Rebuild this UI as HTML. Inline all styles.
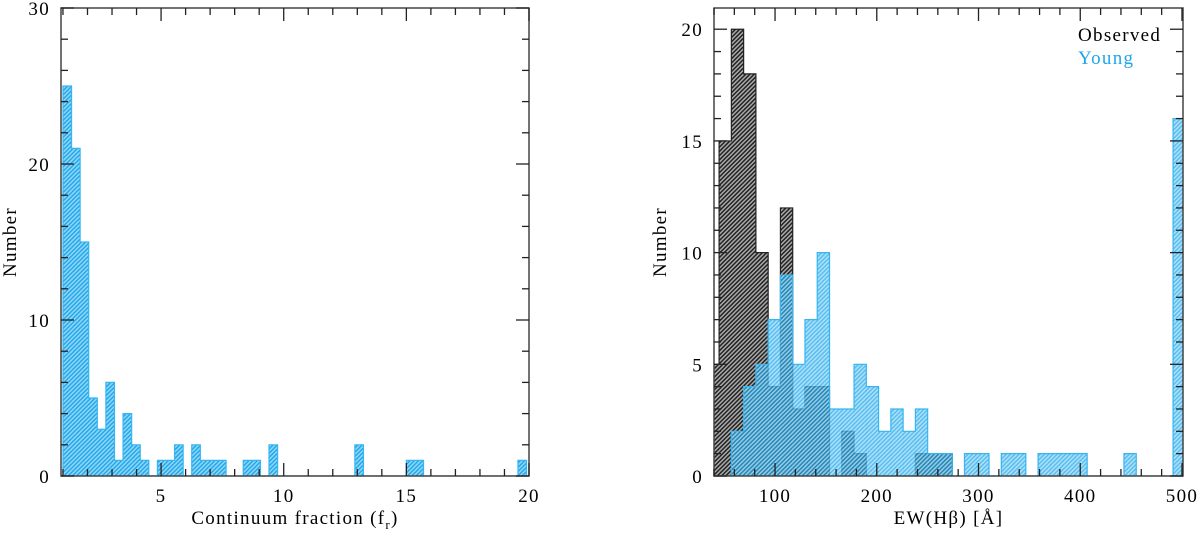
<!DOCTYPE html>
<html><head><meta charset="utf-8"><style>
html,body{margin:0;padding:0;background:#fff;}
svg{display:block;}
text{font-family:"Liberation Serif","DejaVu Serif",serif;font-size:19px;fill:#000;letter-spacing:1.3px;}
</style></head><body>
<svg id="chart" width="1200" height="533" viewBox="0 0 1200 533">
<defs>
<pattern id="hb" patternUnits="userSpaceOnUse" width="3" height="3" patternTransform="rotate(45)">
<rect width="3" height="3" fill="#8fd6f7"/><rect width="1.4" height="3" fill="#1ea6ea"/></pattern>
<pattern id="hk" patternUnits="userSpaceOnUse" width="3" height="3" patternTransform="rotate(45)">
<rect width="3" height="3" fill="#aaa"/><rect width="1.5" height="3" fill="#222"/></pattern>
</defs>
</svg>
<script>
// Left panel data: continuum fraction histogram
const leftStart = 1.0;
const leftWidth = 0.35;
const leftCounts = [25,21,15,5,3,6,1,4,2,1,0,1,1,2,0,2,1,1,1,0,0,1,1,0,2,0,0,0,0,0,0,0,0,0,2,0,0,0,0,0,1,1,0,0,0,0,0,0,0,0,0,0,0,1];
const leftXTicks = [5,10,15,20];
const leftYTicks = [0,10,20,30];
// Right panel data: EW(Hbeta) histograms, bin index -1 starts at 33
const rightStart = 45;
const rightWidth = 12.06;
const observedCounts = [5,15,20,18,10,4,12,3,4,4,0,2,1,0,0,0,0,1,1,1];
const youngCounts = [0,0,2,4,5,7,9,5,7,10,3,3,5,4,2,3,2,3,1,1,0,1,1,0,1,1,0,1,1,1,1,0,0,0,1,0,0,0,16];
const rightXTicks = [100,200,300,400,500];
const rightYTicks = [0,5,10,15,20];

const NS="http://www.w3.org/2000/svg";
const svg=document.getElementById('chart');
function mk(tag,attrs,parent){const e=document.createElementNS(NS,tag);for(const k in attrs)e.setAttribute(k,attrs[k]);(parent||svg).appendChild(e);return e;}

function panel(cfg){
  const g=mk('g',{});
  
  
  const sx=v=>cfg.x0+(v-cfg.xmin)/(cfg.xmax-cfg.xmin)*(cfg.x1-cfg.x0);
  const sy=v=>cfg.y0-(v-cfg.ymin)/(cfg.ymax-cfg.ymin)*(cfg.y0-cfg.y1);
  const clip='clip-'+cfg.name;
  const cp=mk('clipPath',{id:clip},g);
  mk('rect',{x:cfg.x0,y:cfg.y1,width:cfg.x1-cfg.x0,height:cfg.y0-cfg.y1},cp);
  cfg.series.forEach(s=>{
    const sg=mk('g',{'clip-path':'url(#'+clip+')'},g);
    
    
    let d='';
    s.counts.forEach((c,i)=>{
      const a=cfg.start+(i+s.offset)*cfg.width, b=a+cfg.width;
      if(i===0) d+='M'+sx(a)+' '+sy(0);
      d+=' L'+sx(a)+' '+sy(c)+' L'+sx(b)+' '+sy(c);
      if(i===s.counts.length-1) d+=' L'+sx(b)+' '+sy(0);
      if(!c)return;
      const r=mk('rect',{x:sx(a),y:sy(c),width:sx(b)-sx(a)+0.3,height:sy(0)-sy(c),fill:s.fill,stroke:'none','fill-opacity':s.op},sg);
      
      
    });
    const p=mk('path',{d:d,fill:'none',stroke:s.stroke,'stroke-width':1.2},sg);
    
    
  });
  const fr=mk('rect',{x:cfg.x0,y:cfg.y1,width:cfg.x1-cfg.x0,height:cfg.y0-cfg.y1,fill:'none',stroke:'#444','stroke-width':1.5},g);
  
  
  const tg=mk('g',{stroke:'#222','stroke-width':1.3},g);
  for(let v=cfg.xmin;v<=cfg.xmax+1e-9;v+=cfg.xminor){
    const vv=Math.round(v/cfg.xminor)*cfg.xminor; if(vv<cfg.xmin-1e-9)continue;
    const maj=Math.abs(vv/cfg.xmajor-Math.round(vv/cfg.xmajor))<1e-6, L=maj?13:7, x=sx(vv);
    mk('line',{x1:x,x2:x,y1:cfg.y0,y2:cfg.y0-L},tg);mk('line',{x1:x,x2:x,y1:cfg.y1,y2:cfg.y1+L},tg);
  }
  for(let v=cfg.ymin;v<=cfg.ymax+1e-9;v+=cfg.yminor){
    const maj=Math.abs(v/cfg.ymajor-Math.round(v/cfg.ymajor))<1e-6, L=maj?13:7, y=sy(v);
    mk('line',{x1:cfg.x0,x2:cfg.x0+L,y1:y,y2:y},tg);mk('line',{x1:cfg.x1,x2:cfg.x1-L,y1:y,y2:y},tg);
  }
  cfg.xt.forEach(v=>{const t=mk('text',{x:sx(v),y:cfg.y0+26,'text-anchor':'middle'},g);t.textContent=v;
    
    });
  cfg.yt.forEach(v=>{const t=mk('text',{x:cfg.x0-11,y:sy(v)+7,'text-anchor':'end'},g);t.textContent=v;
    
    });
  const yl=mk('text',{x:cfg.ylx,y:(cfg.y0+cfg.y1)/2,'text-anchor':'middle',transform:'rotate(-90 '+cfg.ylx+' '+((cfg.y0+cfg.y1)/2)+')'},g);
  yl.textContent='Number';
  
  
  const xl=mk('text',{x:(cfg.x0+cfg.x1)/2,y:cfg.y0+24+24,'text-anchor':'middle'},g);
  xl.innerHTML=cfg.xlabel;
  
  
  return {sx,sy};
}

panel({name:'left-panel',x0:61,x1:529,y0:476,y1:8,xmin:0.92,xmax:20,ymin:0,ymax:30,
  xminor:1,xmajor:5,yminor:2,ymajor:10,xt:leftXTicks,yt:leftYTicks,ylx:16,
  start:leftStart,width:leftWidth,
  xlabel:'Continuum fraction (f<tspan font-size="13" dy="5">r</tspan><tspan dy="-5">)</tspan>',
  series:[{name:'continuum-hist',counts:leftCounts,offset:0,fill:'url(#hb)',stroke:'#35b6f2',op:1}]});

panel({name:'right-panel',x0:714,x1:1183,y0:476,y1:8,xmin:40,xmax:501,ymin:0,ymax:20.95,
  xminor:20,xmajor:100,yminor:1,ymajor:5,xt:rightXTicks,yt:rightYTicks,ylx:666,
  start:rightStart,width:rightWidth,
  xlabel:'EW(H&#946;) [&#197;]',
  series:[{name:'observed-hist',counts:observedCounts,offset:-1,fill:'url(#hk)',stroke:'#222',op:1},
          {name:'young-hist',counts:youngCounts,offset:-1,fill:'url(#hb)',stroke:'#35b6f2',op:0.75}]});

const l1=mk('text',{x:1078,y:41});l1.textContent='Observed';


const l2=mk('text',{x:1078,y:64,style:'fill:#1ea6ea'});l2.textContent='Young';


</script>
</body></html>
